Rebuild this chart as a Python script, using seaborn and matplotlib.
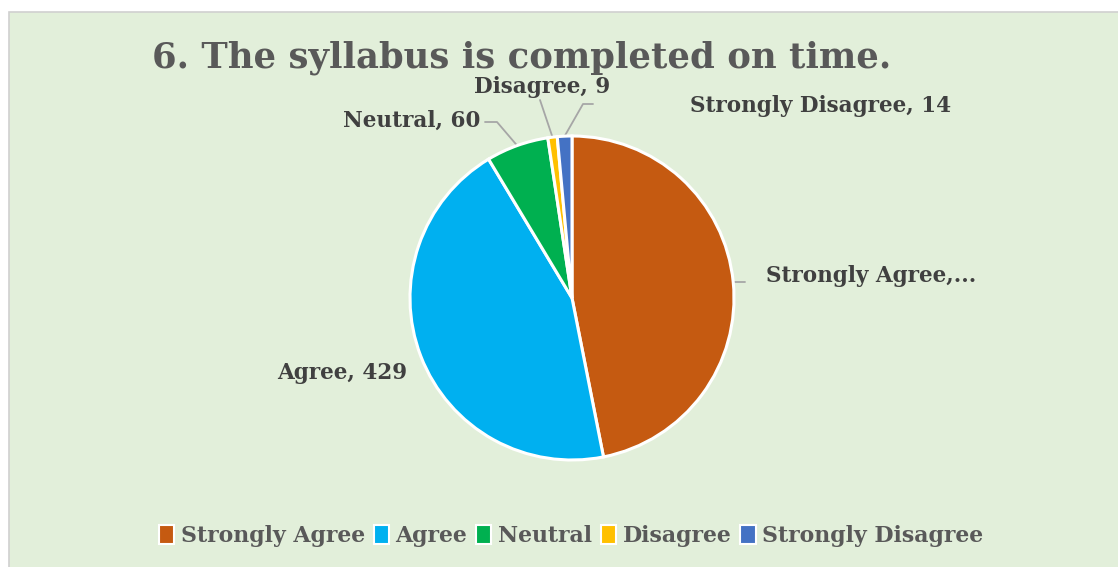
import numpy as np
import matplotlib.pyplot as plt
import matplotlib.patches as mpatches
import seaborn as sns

categories = ["Strongly Agree", "Agree", "Neutral", "Disagree", "Strongly Disagree"]
counts = [452, 429, 60, 9, 14]
shown_labels = ["Strongly Agree,...", "Agree, 429", "Neutral, 60", "Disagree, 9", "Strongly Disagree, 14"]
colors = ["#C55A11", "#00B0F0", "#00B050", "#FFC000", "#4472C4"]
title = "6. The syllabus is completed on time."

sns.set_style("white")
plt.rcParams['font.family'] = ['DejaVu Serif']

W, H = 1118, 567
fig = plt.figure(figsize=(W / 100, H / 100), dpi=100)
fig.patch.set_facecolor("white")

# axes in pixel units, y pointing up
ax = fig.add_axes([0, 0, 1, 1])
ax.add_patch(mpatches.Rectangle((9, -5), W, H - 12 + 5, facecolor="#E2EFDA",
                                edgecolor="#D0D0D0", linewidth=1.2, zorder=0))

cx, cy, r = 572, H - 298, 162
wedges, _ = ax.pie(counts, colors=colors, startangle=90, counterclock=False,
                   center=(cx, cy), radius=r, frame=True,
                   wedgeprops=dict(edgecolor="white", linewidth=2.2, zorder=2))
ax.set_xlim(0, W)
ax.set_ylim(0, H)
ax.set_aspect("equal")
ax.axis("off")

# label anchors (pixel, from top) and leader line elbows
label_pos = [(766, 276, "left"), (407, 373, "right"), (480, 121, "right"), (542, 87, "center"), (690, 106, "left")]
elbows = [(745, None), None, (497, 122), (540, 100), (583, 104)]
line_end = [None, None, (485, 122), None, (593, 104)]
label_color = "#404040"
for w, (lx, ly, ha), elb, le, txt in zip(wedges, label_pos, elbows, line_end, shown_labels):
    ang = np.deg2rad((w.theta1 + w.theta2) / 2)
    ex, ey = cx + r * np.cos(ang), cy + r * np.sin(ang)
    if elb is not None:
        xs = [ex, elb[0]]
        ys = [ey, ey if elb[1] is None else H - elb[1]]
        if le is not None:
            xs.append(le[0])
            ys.append(H - le[1])
        ax.plot(xs, ys, color="#A6A6A6", linewidth=1.3, zorder=1)
    ax.text(lx, H - ly, txt, ha=ha, va="center", fontsize=15.5, fontweight="bold", color=label_color)

ax.text(522, H - 58, title, ha="center", va="center", fontsize=25.5, fontweight="bold", color="#595959")

handles = [mpatches.Patch(facecolor=c, edgecolor="white", linewidth=1.5) for c in colors]
fig.legend(handles, categories, loc="center", bbox_to_anchor=(571 / W, 1 - 536 / H), ncol=5,
           frameon=False, handlelength=0.7, handleheight=0.9, handletextpad=0.3, columnspacing=0.4,
           prop=dict(family="DejaVu Serif", weight="bold", size=15.8), labelcolor="#595959")

fig.savefig("out.png", dpi=100)
